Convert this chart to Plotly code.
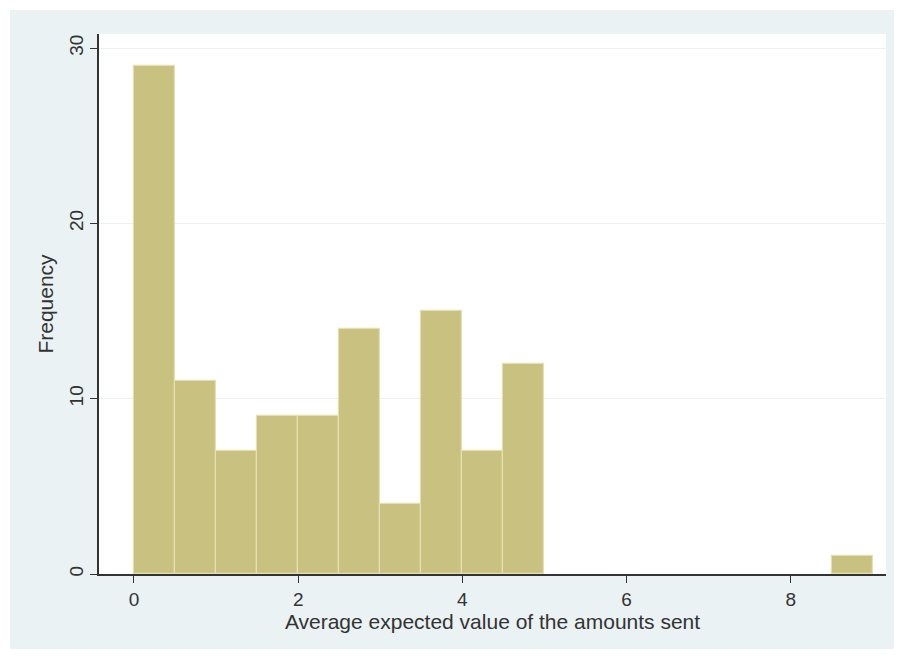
import plotly.graph_objects as go

bin_left = [0, 0.5, 1, 1.5, 2, 2.5, 3, 3.5, 4, 4.5, 5, 5.5, 6, 6.5, 7, 7.5, 8, 8.5]
counts = [29, 11, 7, 9, 9, 14, 4, 15, 7, 12, 0, 0, 0, 0, 0, 0, 0, 1]
bin_width = 0.5
x_ticks = [0, 2, 4, 6, 8]
y_ticks = [0, 10, 20, 30]

# draw only non-empty bins (empty bins have no visible bar)
bar_x = [b + bin_width / 2 for b, c in zip(bin_left, counts) if c > 0]
bar_y = [c for c in counts if c > 0]

fig = go.Figure()
fig.add_trace(go.Bar(
    x=bar_x, y=bar_y, width=bin_width,
    marker=dict(color="#c9c17f", line=dict(color="#e4e0b2", width=1.2)),
    hoverinfo="x+y",
))

# page body has an 8px margin; figure sits at (8, 8)
OFF = 8
W, H = 886, 641
ml, mr, mt, mb = 99 - OFF, 8, 34 - OFF, 641 - (574 - OFF)
pw, ph = W - ml - mr, H - mt - mb

def px_to_paper_x(px):
    return (px - OFF - ml) / pw

def px_to_paper_y(py):
    return (H - mb - (py - OFF)) / ph

fig.add_shape(type="rect", xref="paper", yref="paper",
              x0=px_to_paper_x(10), x1=px_to_paper_x(W + 20),
              y0=px_to_paper_y(H + 20), y1=px_to_paper_y(10),
              fillcolor="#eaf2f3", line=dict(width=0), layer="below")
fig.add_shape(type="rect", xref="paper", yref="paper",
              x0=0, x1=1, y0=0, y1=1,
              fillcolor="#ffffff", line=dict(width=0), layer="below")

font_family = "Liberation Sans, Arial, sans-serif"
fig.update_layout(
    width=W, height=H,
    margin=dict(l=ml, r=mr, t=mt, b=mb),
    paper_bgcolor="#ffffff",
    plot_bgcolor="rgba(0,0,0,0)",
    showlegend=False,
    bargap=0,
    font=dict(family=font_family, size=19, color="#333333"),
    xaxis=dict(
        range=[-0.426, 9.16],
        tickvals=x_ticks,
        ticks="outside", ticklen=7, tickwidth=1.2, tickcolor="#333333",
        showline=True, linecolor="#333333", linewidth=1.5,
        showgrid=False, zeroline=False,
        tickfont=dict(size=19, color="#333333"),
        title=dict(text="Average expected value of the amounts sent",
                   font=dict(size=21, color="#333333"), standoff=0),
    ),
    yaxis=dict(
        range=[0, 30.8],
        tickvals=y_ticks,
        tickangle=-90,
        ticks="outside", ticklen=7, tickwidth=1.2, tickcolor="#333333",
        showline=True, linecolor="#333333", linewidth=1.5,
        showgrid=True, gridcolor="#eaf2f3", gridwidth=1,
        zeroline=False,
        tickfont=dict(size=19, color="#333333"),
        title=dict(text="Frequency", font=dict(size=21, color="#333333"), standoff=6),
    ),
)

fig.write_html("out.html")
